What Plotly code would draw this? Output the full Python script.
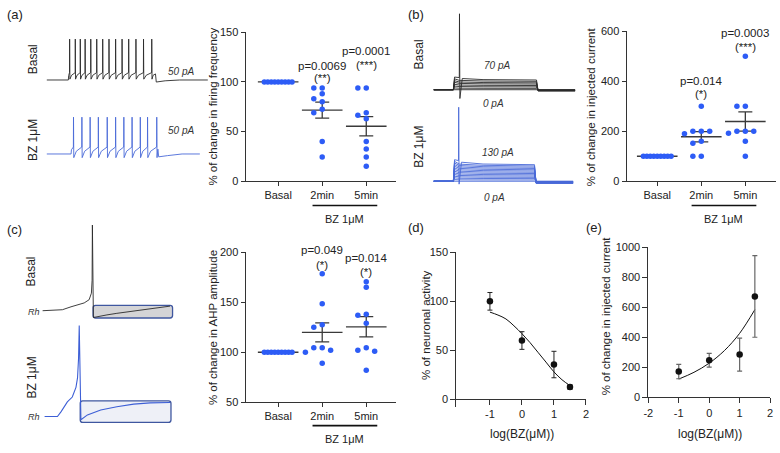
import numpy as np
import plotly.graph_objects as go

W, H = 780, 453

# ------------------------------------------------------------------ data
categories = ["Basal", "2min", "5min"]

a_basal = [100, 100, 100, 100, 100, 100, 100, 100, 100]
a_2min = [94, 94, 88, 83, 80, 72.5, 69, 40, 24.5]
a_5min = [94, 94, 69, 66.5, 63, 40, 32.5, 24.5, 15]
a_pvals = ["p=0.0069", "p=0.0001"]
a_stars = ["(**)", "(***)"]

b_basal = [100, 100, 100, 100, 100, 100, 100, 100, 100]
b_2min = [300, 200, 200, 200, 190, 160, 152, 100, 100]
b_5min = [500, 300, 300, 200, 200, 200, 192, 160, 100]
b_pvals = ["p=0.014", "p=0.0003"]
b_stars = ["(*)", "(***)"]

c_basal = [100, 100, 100, 100, 100, 100, 100, 100, 100]
c_2min = [178.5, 148.5, 127.5, 125, 104.5, 104.5, 102, 100, 89]
c_5min = [170.5, 165, 138, 137, 129, 104.5, 102, 101, 82]
c_pvals = ["p=0.049", "p=0.014"]
c_stars = ["(*)", "(*)"]

d_logc = [-1, 0, 1, 1.5]
d_activity = [100, 60, 35.5, 12.5]
d_sem = [9, 9, 13.5, 2.3]
d_fit_x = [-1, -0.75, -0.5, -0.25, 0, 0.25, 0.5, 0.75, 1, 1.25, 1.5]
d_fit_y = [89, 86, 82, 75, 67, 58, 48, 38, 28, 20, 14]

e_logc = [-1, 0, 1, 1.5]
e_current = [172, 247, 285, 673]
e_sem = [48, 46, 110, 272]
e_fit_x = [-1, -0.5, 0, 0.5, 1, 1.5]
e_fit_y = [122, 167, 228, 312, 427, 585]

# (a) firing traces: spike times (ms) and step on/off (ms), levels (mV)
a_basal_spikes_ms = [143, 178, 209, 239, 274, 311, 348, 387, 428, 468, 509, 554, 601, 652]
a_bz_spikes_ms = [167, 219, 270, 321, 376, 428, 479, 530, 581, 626, 683]
a_basal_step_ms = [135, 675]
a_bz_step_ms = [152, 690]
a_basal_levels_mV = dict(rest=-70, thr=-52, peak=30, trough=-68, post=-75)
a_bz_levels_mV = dict(rest=-70, thr=-53, peak=20, trough=-79, post=-77)

# (b) current-step families: plateau deflection (mV) per step
b_basal_pA = [0, 10, 20, 30, 40, 50, 60, 70]
b_basal_plateau_mV = [0, 1.4, 2.9, 4.3, 5.8, 7.1, 8.6, 10]
b_bz_pA = [0, 10, 20, 30, 40, 50, 60, 70, 80, 90, 100, 110, 120, 130]
b_bz_plateau_mV = [0, 1.3, 2.7, 4.0, 5.3, 6.6, 7.9, 9.2, 10.5, 11.8, 13.1, 14.4, 15.7, 17]
b_basal_step_ms = [100, 520]
b_bz_step_ms = [100, 510]
b_basal_spike = [131, 8, -79]     # time, peak, trough
b_bz_spike = [127, 6, -73]

# (c) single spike + AHP traces (ms, mV)
c_basal_t = [0, 12, 20, 28.7, 36, 42, 47, 49.3, 50, 50.3, 51.3, 55.3, 65, 75, 88, 100, 112, 122, 128.7]
c_basal_v = [-70, -69.7, -69, -66, -64, -62, -58.7, -52, -38.7, 18, -77, -76, -74.3, -72.7, -70.8, -69.2, -67.6, -66.2, -65.3]
c_basal_box = [51, 131.3, -77.5, -64.5]
c_bz_t = [0, 13, 16.7, 20, 23, 28, 31.7, 33.3, 34.3, 35, 36.7, 43.3, 56.7, 73, 90, 106.7, 126.7]
c_bz_v = [-69.7, -69.7, -64.7, -59, -54.7, -49.7, -39.7, -29.7, -10, 23.7, -73, -68, -63, -59.7, -57, -55.7, -55.3]
c_bz_box = [36, 127.7, -75.7, -53.7]

# ------------------------------------------------------------------ style
FONT = "Liberation Sans, Arial, sans-serif"
AX = "#333333"
TXT = "#222222"
DOT = "#2d5cf6"
MEAN = "#3a3a3a"
TR_BLACK = "#2a2a2a"
TR_BLUE = "#4a6ad8"
BOX_EDGE = "#3f57a0"

fig = go.Figure()
layout_axes = {}
annotations = []
shapes = []


def kx(n): return "xaxis" if n == 1 else f"xaxis{n}"
def ky(n): return "yaxis" if n == 1 else f"yaxis{n}"
def rx(n): return "x" if n == 1 else f"x{n}"
def ry(n): return "y" if n == 1 else f"y{n}"
def xd(x0, x1): return [x0 / W, x1 / W]
def yd(top, bot): return [1 - bot / H, 1 - top / H]


def base_axis():
    return dict(showline=True, linecolor=AX, linewidth=1, ticks="outside", ticklen=4,
                tickwidth=1, tickcolor=AX, showgrid=False, zeroline=False,
                tickfont=dict(size=11, color=TXT, family=FONT))


def add_xy(n, xdom, ydom, xr, yr, xkw=None, ykw=None, visible=True):
    xk = dict(domain=xdom, range=xr, anchor=ry(n), fixedrange=True)
    yk = dict(domain=ydom, range=yr, anchor=rx(n), fixedrange=True)
    if visible:
        xk.update(base_axis()); yk.update(base_axis())
    else:
        xk.update(visible=False); yk.update(visible=False)
    if xkw: xk.update(xkw)
    if ykw: yk.update(ykw)
    layout_axes[kx(n)] = xk
    layout_axes[ky(n)] = yk


def ann(text, xpx, ypx, size=11, angle=0, color=TXT):
    annotations.append(dict(text=text, x=xpx / W, y=1 - ypx / H, xref="paper", yref="paper",
                            showarrow=False, textangle=angle, xanchor="center", yanchor="middle",
                            font=dict(size=size, color=color, family=FONT)))


def swarm(vals, ppu, step=8.5, d=5.5):
    vals = list(vals)
    if len(set(vals)) == 1:
        return list(np.linspace(-14, 14, len(vals)))
    order = sorted(range(len(vals)), key=lambda i: -vals[i])
    placed, offs = [], [0.0] * len(vals)
    cands = [0]
    for m in range(1, 8):
        cands += [-m, m]
    for i in order:
        y = vals[i] * ppu
        ox = 0.0
        for c in cands:
            ox = c * step
            if all(abs(ox - px) >= step * 0.9 or abs(y - py) >= d for px, py in placed):
                break
        placed.append((ox, y))
        offs[i] = ox
    return offs


CAT_PX = 44.5


def dot_panel(n, groups, x0_px, xdom_px, ydom_px, yr, ytick, pvals, stars, p_y, s_y, bar_px, lab_px):
    xr = [(xdom_px[0] - x0_px) / CAT_PX, (xdom_px[1] - x0_px) / CAT_PX]
    ydom = yd(*ydom_px)
    add_xy(n, xd(*xdom_px), ydom, xr, yr,
           xkw=dict(tickvals=[0, 1, 2], ticktext=categories),
           ykw=dict(tickvals=ytick))
    ppu = (ydom_px[1] - ydom_px[0]) / (yr[1] - yr[0])

    def to_paper(val):
        return ydom[0] + (val - yr[0]) / (yr[1] - yr[0]) * (ydom[1] - ydom[0])

    for i, g in enumerate(groups):
        arr = np.array(g, float)
        m = float(arr.mean())
        sem = float(arr.std(ddof=1) / np.sqrt(len(arr)))
        fig.add_trace(go.Scatter(
            x=[i], y=[m], mode="markers", xaxis=rx(n), yaxis=ry(n), hoverinfo="skip",
            marker=dict(symbol="line-ew", size=29, color=MEAN, line=dict(width=1.3, color=MEAN)),
            error_y=dict(type="data", array=[sem], width=7, thickness=1.3, color=MEAN,
                         visible=bool(sem > 0))))
    for i, g in enumerate(groups):
        offs = swarm(g, ppu)
        fig.add_trace(go.Scatter(
            x=[i + float(o) / CAT_PX for o in offs], y=g, mode="markers", xaxis=rx(n), yaxis=ry(n),
            marker=dict(size=5.5, color=DOT), cliponaxis=False, hoverinfo="skip"))
    for j in range(2):
        for txt, yy in ((pvals[j], p_y[j]), (stars[j], s_y[j])):
            annotations.append(dict(text=txt, x=j + 1, y=to_paper(yy), xref=rx(n), yref="paper",
                                    showarrow=False, xanchor="center", yanchor="middle",
                                    font=dict(size=11.5, color=TXT, family=FONT)))
    shapes.append(dict(type="line", xref=rx(n), yref="paper", x0=0.78, x1=2.25,
                       y0=1 - bar_px / H, y1=1 - bar_px / H, line=dict(color="#111", width=1.6)))
    annotations.append(dict(text="BZ 1μM", x=1.5, y=1 - lab_px / H, xref=rx(n), yref="paper",
                            showarrow=False, xanchor="center", yanchor="middle",
                            font=dict(size=11, color=TXT, family=FONT)))


# ------------------------------------------------------------------ dot panels
dot_panel(1, [a_basal, a_2min, a_5min], 276, (243, 395), (27, 180), [0, 150], [0, 50, 100, 150],
          a_pvals, a_stars, [116.5, 131.5], [103.5, 117.5], 205, 219)
dot_panel(2, [b_basal, b_2min, b_5min], 659, (628, 779), (26, 180), [0, 600], [0, 200, 400, 600],
          b_pvals, b_stars, [402, 594], [348, 537], 205, 219)
dot_panel(3, [c_basal, c_2min, c_5min], 276, (243, 395), (253, 407), [50, 200], [50, 100, 150, 200],
          c_pvals, c_stars, [202.5, 194.5], [187.5, 180.5], 431, 445)

# ------------------------------------------------------------------ (d)
add_xy(4, xd(456, 587), yd(253, 412), [-2.05, 2], [-7.9, 150],
       xkw=dict(tickvals=[-1, 0, 1, 2], ticktext=["-1", "0", "1", "2"], anchor="free",
                position=1 - 404 / H, ticklen=5),
       ykw=dict(tickvals=[0, 50, 100, 150], ticklen=5))
fig.add_trace(go.Scatter(x=d_fit_x, y=d_fit_y, mode="lines", line=dict(color="#111", width=1, shape="spline"),
                         xaxis="x4", yaxis="y4", hoverinfo="skip"))
fig.add_trace(go.Scatter(x=d_logc, y=d_activity, mode="markers", xaxis="x4", yaxis="y4",
                         marker=dict(size=6.5, color="#111"), hoverinfo="skip",
                         error_y=dict(type="data", array=d_sem, width=2.5, thickness=1, color="#222")))

# ------------------------------------------------------------------ (e)
add_xy(5, xd(650, 773), yd(248, 402), [-2, 2], [0, 1000],
       xkw=dict(tickvals=[-2, -1, 0, 1, 2], ticktext=["-2", "-1", "0", "1", "2"], ticklen=5),
       ykw=dict(tickvals=[0, 200, 400, 600, 800, 1000], ticklen=5))
fig.add_trace(go.Scatter(x=e_fit_x, y=e_fit_y, mode="lines", line=dict(color="#111", width=1, shape="spline"),
                         xaxis="x5", yaxis="y5", hoverinfo="skip"))
fig.add_trace(go.Scatter(x=e_logc, y=e_current, mode="markers", xaxis="x5", yaxis="y5",
                         marker=dict(size=6.5, color="#111"), hoverinfo="skip",
                         error_y=dict(type="data", array=e_sem, width=2.5, thickness=1.2, color="#666")))


# ------------------------------------------------------------------ (a) traces
def spike_train(spikes, step, t_end, lv):
    t_on, t_off = step
    rest, thr, peak, trough, post = lv["rest"], lv["thr"], lv["peak"], lv["trough"], lv["post"]
    t = [0.0, t_on, t_on + 2, spikes[0] - 2]
    v = [rest, rest, rest + 0.6 * (thr - rest), thr - 2]
    for i, ts in enumerate(spikes):
        t += [ts - 0.8, ts, ts + 1.6]
        v += [thr, peak, trough]
        nxt = spikes[i + 1] if i + 1 < len(spikes) else t_off
        gap = nxt - ts
        if gap > 8:
            t.append(ts + 1.6 + 0.3 * gap)
            v.append(trough + 0.6 * (thr - trough))
    t += [t_off, t_off + 5, t_off + 60, t_off + 150, t_end]
    v += [trough + 0.8 * (thr - trough), post, post + 3, rest, rest]
    return t, v


MVPX = 2.38
add_xy(6, xd(42, 205), yd(30, 82), [0, 1000], [-70 - 6 * MVPX, -70 + 46 * MVPX], visible=False)
add_xy(7, xd(42, 205), yd(106, 160), [0, 1000], [-70 - 8 * MVPX, -70 + 46 * MVPX], visible=False)
t, v = spike_train(a_basal_spikes_ms, a_basal_step_ms, 1000, a_basal_levels_mV)
fig.add_trace(go.Scatter(x=t, y=v, mode="lines", line=dict(color=TR_BLACK, width=0.9),
                         xaxis="x6", yaxis="y6", hoverinfo="skip"))
t, v = spike_train(a_bz_spikes_ms, a_bz_step_ms, 950, a_bz_levels_mV)
fig.add_trace(go.Scatter(x=t, y=v, mode="lines", line=dict(color=TR_BLUE, width=0.9),
                         xaxis="x7", yaxis="y7", hoverinfo="skip"))


# ------------------------------------------------------------------ (b) traces
def step_trace(d, step, t_end, rest, spike=None):
    t_on, t_off = step
    pts = [(0, rest), (t_on, rest), (t_on + 6, rest + 1.3 * d), (t_on + 30, rest + 1.12 * d),
           (t_on + 150, rest + 1.04 * d), (t_off, rest + d), (t_off + 8, rest - 0.13 * d),
           (t_end, rest - 0.13 * d)]
    if spike:
        ts, vp, vt = spike
        pts = [p for p in pts if not (ts - 2 < p[0] < ts + 14)]
        pts += [(ts - 1, rest + 1.25 * d), (ts, vp), (ts + 2, vt), (ts + 14, rest + 1.15 * d)]
        pts.sort()
    return [p[0] for p in pts], [p[1] for p in pts]


add_xy(8, xd(433, 577), yd(5, 100), [0, 720], [-84, 11], visible=False)
add_xy(9, xd(433, 577), yd(101, 200), [0, 720], [-90, 9], visible=False)
for k, d in enumerate(b_basal_plateau_mV):
    sp = b_basal_spike if k == len(b_basal_plateau_mV) - 1 else None
    t, v = step_trace(d, b_basal_step_ms, 715, -70, sp)
    fig.add_trace(go.Scatter(x=t, y=v, mode="lines", line=dict(color=TR_BLACK, width=0.9),
                             xaxis="x8", yaxis="y8", hoverinfo="skip"))
for k, d in enumerate(b_bz_plateau_mV):
    sp = b_bz_spike if k == len(b_bz_plateau_mV) - 1 else None
    t, v = step_trace(d, b_bz_step_ms, 705, -70, sp)
    fig.add_trace(go.Scatter(x=t, y=v, mode="lines", line=dict(color=TR_BLUE, width=0.9),
                             xaxis="x9", yaxis="y9", hoverinfo="skip"))


# ------------------------------------------------------------------ (c) traces
def rrect(x0, x1, y0, y1, r):
    return (f"M {x0 + r},{y0} L {x1 - r},{y0} Q {x1},{y0} {x1},{y0 + r} L {x1},{y1 - r} "
            f"Q {x1},{y1} {x1 - r},{y1} L {x0 + r},{y1} Q {x0},{y1} {x0},{y1 - r} "
            f"L {x0},{y0 + r} Q {x0},{y0} {x0 + r},{y0} Z")


add_xy(10, xd(30, 175), yd(220, 324), [-8, 137], [-81, 23], visible=False)
add_xy(11, xd(30, 175), yd(325, 432), [-10, 135], [-80, 27], visible=False)
shapes.append(dict(type="path", xref="x10", yref="y10", path=rrect(*c_basal_box, 2.5),
                   fillcolor="#d4d4d6", line=dict(color=BOX_EDGE, width=1.3), layer="below"))
shapes.append(dict(type="path", xref="x11", yref="y11", path=rrect(*c_bz_box, 2.5),
                   fillcolor="#eef0f7", line=dict(color=BOX_EDGE, width=1.3), layer="below"))
fig.add_trace(go.Scatter(x=c_basal_t, y=c_basal_v, mode="lines", line=dict(color=TR_BLACK, width=0.9),
                         xaxis="x10", yaxis="y10", hoverinfo="skip"))
fig.add_trace(go.Scatter(x=c_bz_t, y=c_bz_v, mode="lines", line=dict(color="#3d5fd6", width=1.1),
                         xaxis="x11", yaxis="y11", hoverinfo="skip"))

# ------------------------------------------------------------------ text
ann("(a)", 10, 9, 13)
ann("(b)", 415, 9, 13)
ann("(c)", 10, 230, 13)
ann("(d)", 415, 228, 13)
ann("(e)", 595, 228, 13)

ann("Basal", 28, 55, 12, -90)
ann("BZ 1μM", 29, 138, 12, -90)
ann("Basal", 418, 50, 12, -90)
ann("BZ 1μM", 418, 145, 12, -90)
ann("Basal", 26, 273, 12, -90)
ann("BZ 1μM", 27, 382, 12, -90)

ann("<i>50 pA</i>", 178, 67, 10, 0, "#333")
ann("<i>50 pA</i>", 178, 128, 10, 0, "#333")
ann("<i>70 pA</i>", 497, 61, 10, 0, "#333")
ann("<i>0 pA</i>", 494, 100, 10, 0, "#333")
ann("<i>130 pA</i>", 498, 150, 10, 0, "#333")
ann("<i>0 pA</i>", 495, 197, 10, 0, "#333")
ann("<i>Rh</i>", 29, 314, 9, 0, "#333")
ann("<i>Rh</i>", 29, 422, 9, 0, "#333")

ann("% of change in firing frequency", 210, 103.5, 11.5, -90)
ann("% of change in injected current", 592, 103, 11.5, -90)
ann("% of change in AHP amplitude", 210, 330, 11.5, -90)
ann("% of neuronal activity", 426, 328, 11.5, -90)
ann("% of change in injected current", 607, 318, 11.5, -90)
ann("log(BZ(μM))", 522, 440, 12)
ann("log(BZ(μM))", 712, 440, 12)

fig.update_layout(width=W, height=H, margin=dict(l=0, r=0, t=0, b=0),
                  paper_bgcolor="white", plot_bgcolor="rgba(0,0,0,0)", showlegend=False,
                  font=dict(family=FONT, size=11, color=TXT),
                  annotations=annotations, shapes=shapes, **layout_axes)

fig.write_html("out.html")
